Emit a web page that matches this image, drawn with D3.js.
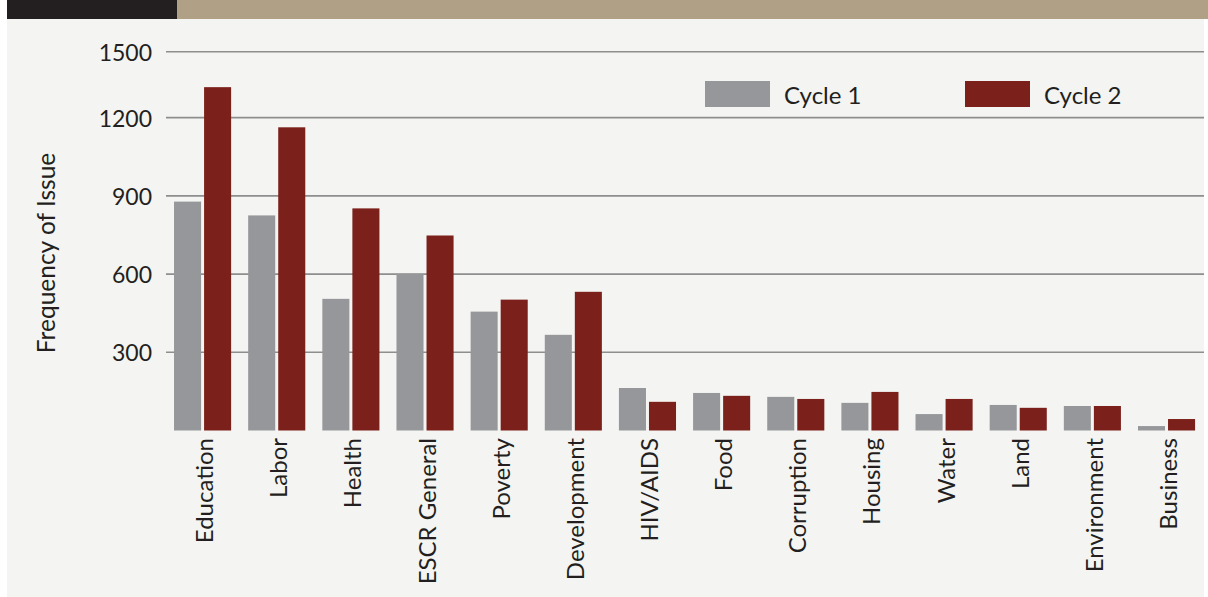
<!DOCTYPE html>
<html>
<head>
<meta charset="utf-8">
<script src="https://cdn.jsdelivr.net/npm/d3@7"></script>
<style>
  html, body { margin: 0; padding: 0; background: #ffffff; }
  svg { display: block; }
  text { font-family: Lato, "Open Sans", sans-serif; fill: #231f20; }
</style>
</head>
<body>
<svg id="chart" width="1208" height="597"></svg>
<script>
const categories = ["Education", "Labor", "Health", "ESCR General", "Poverty", "Development",
  "HIV/AIDS", "Food", "Corruption", "Housing", "Water", "Land", "Environment", "Business"];
const seriesNames = ["Cycle 1", "Cycle 2"];
const cycle1 = [878, 825, 505, 601, 456, 367, 163, 144, 129, 106, 63, 98, 94, 17];
const cycle2 = [1317, 1163, 852, 748, 502, 532, 110, 133, 121, 148, 121, 87, 94, 44];
const gridValues = [300, 600, 900, 1200, 1453];
const tickLabels = ["300", "600", "900", "1200", "1500"];
const yTitle = "Frequency of Issue";

const colors = { "Cycle 1": "#96979a", "Cycle 2": "#7b201b" };

const svg = d3.select("#chart");

// page background + header band
svg.append("rect").attr("x", 7).attr("y", 19).attr("width", 1197).attr("height", 578).attr("fill", "#f4f4f2");
svg.append("rect").attr("x", 7).attr("y", 0).attr("width", 170).attr("height", 19).attr("fill", "#231f20");
svg.append("rect").attr("x", 177).attr("y", 0).attr("width", 1031).attr("height", 19).attr("fill", "#b0a086");

const x0 = d3.scaleBand().domain(categories).range([165.5, 1203.6]).paddingInner(0.23).paddingOuter(0.115);
const x1 = d3.scaleBand().domain(seriesNames).range([0, x0.bandwidth()]).paddingInner(0.1);
const y = d3.scaleLinear().domain([0, 1453]).range([430.5, 51.7]);

// gridlines
const grid = svg.append("g");
grid.selectAll("line").data(gridValues).join("line")
  .attr("x1", 166).attr("x2", 1204)
  .attr("y1", d => y(d)).attr("y2", d => y(d))
  .attr("stroke", "#8e8e8e").attr("stroke-width", 1.6);

// y tick labels
svg.append("g").selectAll("text").data(gridValues).join("text")
  .attr("x", 152).attr("y", d => y(d)).attr("dy", "0.4em")
  .attr("text-anchor", "end").attr("font-size", 23)
  .text((d, i) => tickLabels[i]);

// y title
svg.append("text")
  .attr("transform", "translate(55,253) rotate(-90)")
  .attr("text-anchor", "middle").attr("font-size", 24.5)
  .text(yTitle);

// bars
const data = categories.map((c, i) => ({ cat: c, values: [
  { key: "Cycle 1", v: cycle1[i] }, { key: "Cycle 2", v: cycle2[i] } ] }));
const groups = svg.append("g").selectAll("g").data(data).join("g")
  .attr("transform", d => `translate(${x0(d.cat)},0)`);
groups.selectAll("rect").data(d => d.values).join("rect")
  .attr("x", d => x1(d.key)).attr("width", x1.bandwidth())
  .attr("y", d => y(d.v)).attr("height", d => y(0) - y(d.v))
  .attr("fill", d => colors[d.key]);

// x labels
svg.append("g").selectAll("text").data(categories).join("text")
  .attr("transform", d => `translate(${x0(d) + x0.bandwidth() / 2},438) rotate(-90)`)
  .attr("dy", 10.5).attr("text-anchor", "end").attr("font-size", 24)
  .text(d => d);

// legend
const legendX = [705, 965];
const lg = svg.append("g").selectAll("g").data(seriesNames).join("g")
  .attr("transform", (d, i) => `translate(${legendX[i]},81)`);
lg.append("rect").attr("width", 65).attr("height", 26).attr("fill", d => colors[d]);
lg.append("text").attr("x", 79).attr("y", 23.3).attr("font-size", 24).text(d => d);
</script>
</body>
</html>
